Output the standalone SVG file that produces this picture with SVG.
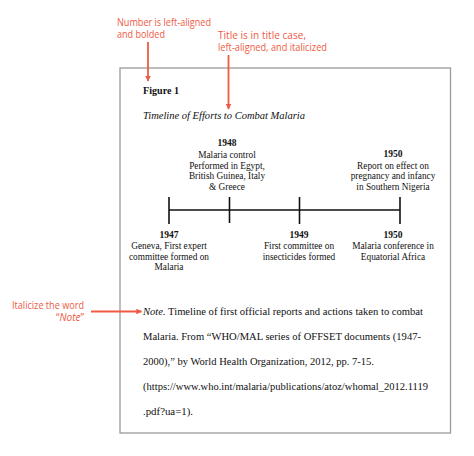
<svg xmlns="http://www.w3.org/2000/svg" width="474" height="456" viewBox="0 0 474 456">
<style>
.ann{font-family:"Open Sans","Liberation Sans",sans-serif;font-size:10px;fill:#EE5A45}
.t{font-family:"Liberation Serif","Times New Roman",serif;fill:#111}
.lbl{font-size:9.3px;text-anchor:middle}
.yr{font-size:9.5px;font-weight:bold;text-anchor:middle}
.note{font-size:11px}
.red{stroke:#EE5A45;stroke-width:1.8;fill:none}
.tl{stroke:#111;stroke-width:1.6;fill:none}
</style>
<defs>
<marker id="ah" viewBox="0 0 10 10" refX="9" refY="5" markerWidth="3.2" markerHeight="3.2" orient="auto" markerUnits="strokeWidth">
<path d="M0,0 L10,5 L0,10 z" fill="#EE5A45"/>
</marker>
</defs>
<rect width="474" height="456" fill="#fff"/>
<g id="frame">
<rect x="120" y="68" width="330.5" height="365" fill="#fff" stroke="#9a9a9a" stroke-width="1.3"/>
</g>
<g id="annotation-number">
<text class="ann" x="117" y="25.5" textLength="94" lengthAdjust="spacingAndGlyphs">Number is left-aligned</text>
<text class="ann" x="117" y="38" textLength="48" lengthAdjust="spacingAndGlyphs">and bolded</text>
</g>
<g id="annotation-title">
<text class="ann" x="218" y="38.5" textLength="88" lengthAdjust="spacingAndGlyphs">Title is in title case,</text>
<text class="ann" x="218" y="51" textLength="109" lengthAdjust="spacingAndGlyphs">left-aligned, and italicized</text>
</g>
<g id="annotation-note">
<text class="ann" x="84" y="308.5" text-anchor="end" textLength="72" lengthAdjust="spacingAndGlyphs">Italicize the word</text>
<text class="ann" x="84" y="321" text-anchor="end">“<tspan font-style="italic">Note</tspan>”</text>
</g>
<g id="connectors">
<line class="red" x1="148" y1="42" x2="148" y2="81" marker-end="url(#ah)"/>
<line class="red" x1="228.5" y1="55" x2="228.5" y2="109" marker-end="url(#ah)"/>
<line class="red" x1="91" y1="311.5" x2="141.5" y2="311.5" marker-end="url(#ah)"/>
</g>
<g id="heading">
<text class="t" x="143" y="94" font-size="10.5" font-weight="bold" textLength="36" lengthAdjust="spacingAndGlyphs">Figure 1</text>
<text class="t" x="143" y="118.5" font-size="10.5" font-style="italic" textLength="162" lengthAdjust="spacingAndGlyphs">Timeline of Efforts to Combat Malaria</text>
</g>
<g id="timeline">
<line class="tl" x1="169" y1="210" x2="400" y2="210"/>
<line class="tl" x1="169" y1="197" x2="169" y2="224"/>
<line class="tl" x1="229.5" y1="197" x2="229.5" y2="223"/>
<line class="tl" x1="299.5" y1="197" x2="299.5" y2="224"/>
<line class="tl" x1="400" y1="197" x2="400" y2="224"/>
</g>
<g id="event-1948">
<text class="t yr" x="227" y="146">1948</text>
<text class="t lbl" x="227" y="158">Malaria control</text>
<text class="t lbl" x="227" y="168.5">Performed in Egypt,</text>
<text class="t lbl" x="227" y="179">British Guinea, Italy</text>
<text class="t lbl" x="227" y="189.5">&amp; Greece</text>
</g>
<g id="event-1950-top">
<text class="t yr" x="393" y="157">1950</text>
<text class="t lbl" x="393" y="168.5">Report on effect on</text>
<text class="t lbl" x="393" y="179">pregnancy and infancy</text>
<text class="t lbl" x="393" y="189.5">in Southern Nigeria</text>
</g>
<g id="event-1947">
<text class="t yr" x="169" y="238">1947</text>
<text class="t lbl" x="169" y="249">Geneva, First expert</text>
<text class="t lbl" x="169" y="259.5">committee formed on</text>
<text class="t lbl" x="169" y="270">Malaria</text>
</g>
<g id="event-1949">
<text class="t yr" x="299" y="238">1949</text>
<text class="t lbl" x="299" y="249">First committee on</text>
<text class="t lbl" x="299" y="259.5">insecticides formed</text>
</g>
<g id="event-1950-bottom">
<text class="t yr" x="393" y="238">1950</text>
<text class="t lbl" x="393" y="249">Malaria conference in</text>
<text class="t lbl" x="393" y="259.5">Equatorial Africa</text>
</g>
<g id="note">
<text class="t note" x="143" y="315" textLength="280" lengthAdjust="spacingAndGlyphs"><tspan font-style="italic">Note.</tspan> Timeline of first official reports and actions taken to combat</text>
<text class="t note" x="143" y="340" textLength="278" lengthAdjust="spacingAndGlyphs">Malaria. From “WHO/MAL series of OFFSET documents (1947-</text>
<text class="t note" x="143" y="365" textLength="231" lengthAdjust="spacingAndGlyphs">2000),” by World Health Organization, 2012, pp. 7-15.</text>
<text class="t note" x="143" y="390" textLength="285" lengthAdjust="spacingAndGlyphs">(https://www.who.int/malaria/publications/atoz/whomal_2012.1119</text>
<text class="t note" x="143" y="415" textLength="50" lengthAdjust="spacingAndGlyphs">.pdf?ua=1).</text>
</g>
</svg>
